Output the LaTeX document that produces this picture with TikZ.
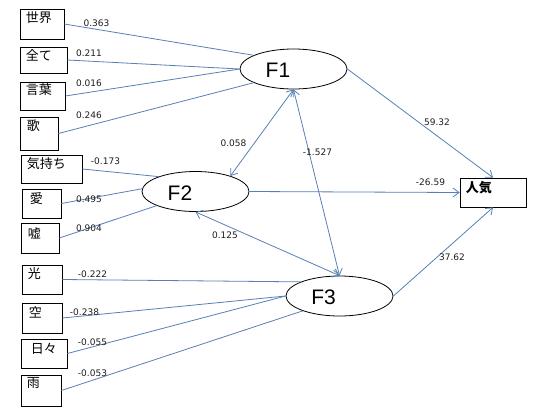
\documentclass[tikz,border=0pt]{standalone}
\usepackage{fontspec}
\setmainfont{DejaVu Sans}
\newfontfamily\jpfont{Noto Sans CJK JP}
\newfontfamily\fsans{Liberation Sans}
\usetikzlibrary{shapes.geometric,arrows.meta}
\definecolor{lineblue}{RGB}{88,128,182}
\definecolor{numcol}{RGB}{30,30,30}
\begin{document}
\begin{tikzpicture}[x=1pt,y=-1pt,
  box/.style={draw=black,line width=0.8pt,inner sep=0pt},
  jtext/.style={font=\jpfont\fontsize{13}{13}\selectfont,inner sep=0pt,anchor=north west},
  factor/.style={ellipse,draw=black,line width=0.8pt,inner sep=0pt,minimum width=107pt,minimum height=40pt},
  ftext/.style={font=\fsans\fontsize{21}{21}\selectfont,inner sep=0pt},
  num/.style={font=\fontsize{9}{9}\selectfont,text=numcol,inner sep=0pt},
  conn/.style={draw=lineblue,line width=0.8pt},
  arr/.style={conn,-{Straight Barb[length=6pt,width=9pt]}},
  darr/.style={conn,{Straight Barb[length=6pt,width=9pt]}-{Straight Barb[length=6pt,width=9pt]}}
]
\fill[white] (0,0) rectangle (541,418);
\useasboundingbox (0,0) rectangle (541,418);

% observed boxes
\node[box,minimum width=44pt,minimum height=30pt] (b1) at (42,24) {};
\node[box,minimum width=47pt,minimum height=26pt] (b2) at (43.5,60) {};
\node[box,minimum width=45pt,minimum height=28pt] (b3) at (42.5,96) {};
\node[box,minimum width=38pt,minimum height=33pt] (b4) at (39,133.5) {};
\node[box,minimum width=61pt,minimum height=28pt] (b5) at (51.5,169) {};
\node[box,minimum width=39pt,minimum height=29pt] (b6) at (41.5,203.5) {};
\node[box,minimum width=38pt,minimum height=30pt] (b7) at (40,238) {};
\node[box,minimum width=40pt,minimum height=29pt] (b8) at (42,279.5) {};
\node[box,minimum width=40pt,minimum height=30pt] (b9) at (42,318) {};
\node[box,minimum width=46pt,minimum height=29pt] (b10) at (44,353.5) {};
\node[box,minimum width=40pt,minimum height=31pt] (b11) at (41,390.5) {};
\node[box,minimum width=66pt,minimum height=29pt] (P) at (493,192.5) {};

\node[jtext] (t1) at ([xshift=6pt,yshift=-3pt]b1.north west) {世界};
\node[jtext] (t2) at ([xshift=6pt,yshift=-3pt]b2.north west) {全て};
\node[jtext] (t3) at ([xshift=6pt,yshift=-2pt]b3.north west) {言葉};
\node[jtext] (t4) at ([xshift=7pt,yshift=-3pt]b4.north west) {歌};
\node[jtext] (t5) at ([xshift=6pt,yshift=-3pt]b5.north west) {気持ち};
\node[jtext] (t6) at ([xshift=8pt,yshift=-4pt]b6.north west) {愛};
\node[jtext] (t7) at ([xshift=7pt,yshift=-5pt]b7.north west) {嘘};
\node[jtext] (t8) at ([xshift=6pt,yshift=-3pt]b8.north west) {光};
\node[jtext] (t9) at ([xshift=7pt,yshift=-4pt]b9.north west) {空};
\node[jtext] (t10) at ([xshift=10pt,yshift=-4pt]b10.north west) {日々};
\node[jtext] (t11) at ([xshift=6pt,yshift=-3pt]b11.north west) {雨};
\node[jtext,font=\jpfont\bfseries\fontsize{13}{13}\selectfont] (tP) at ([xshift=6pt,yshift=-4pt]P.north west) {人気};

% latent factors
\node[factor] (F1) at (293.5,69) {};
\node[factor] (F2) at (195.5,191.5) {};
\node[factor] (F3) at (339.5,296) {};
\node[ftext] (F1t) at ([xshift=-15.5pt,yshift=-1.5pt]F1.center) {F1};
\node[ftext] (F2t) at ([xshift=-15.5pt,yshift=-1.5pt]F2.center) {F2};
\node[ftext] (F3t) at ([xshift=-16pt,yshift=-1.5pt]F3.center) {F3};

% loadings
\draw[conn] (b1.east) -- (F1.161);
\draw[conn] (b2.east) -- (F1.180);
\draw[conn] (b3.east) -- (F1.180);
\draw[conn] (b4.east) -- (F1.199);
\draw[conn] (b5.east) -- (F2.158);
\draw[conn] (b6.east) -- (F2.177);
\draw[conn] (b7.east) -- (F2.200);
\draw[conn] (b8.east) -- (F3.160);
\draw[conn] (b9.east) -- (F3.180);
\draw[conn] (b10.east) -- (F3.180);
\draw[conn] (b11.east) -- (F3.202);

% paths
\draw[arr] (F1.east) -- (P.north);
\draw[arr] (F2.east) -- (P.west);
\draw[arr] (F3.east) -- (P.south);
\draw[darr] (F1.south) -- (F2.24);
\draw[darr] (F1.south) -- (F3.north);
\draw[darr] (F2.south) -- (F3.north);

% numbers
\node[num] (n1) at (96.5,23) {0.363};
\node[num] (n2) at (89,53) {0.211};
\node[num] (n3) at (89,83) {0.016};
\node[num] (n4) at (89,115) {0.246};
\node[num] (n5) at (105.5,161) {-0.173};
\node[num] (n6) at (89,199) {0.495};
\node[num] (n7) at (89,228) {0.904};
\node[num] (n8) at (233.5,143) {0.058};
\node[num] (n9) at (225,235) {0.125};
\node[num] (n10) at (92.5,274) {-0.222};
\node[num] (n11) at (84.5,312) {-0.238};
\node[num] (n12) at (92.5,342) {-0.055};
\node[num] (n13) at (92.5,373) {-0.053};
\node[num] (n14) at (437,122) {59.32};
\node[num] (n15) at (317.5,152) {-1.527};
\node[num] (n16) at (430.5,182) {-26.59};
\node[num] (n17) at (452,257) {37.62};
\end{tikzpicture}
\end{document}
